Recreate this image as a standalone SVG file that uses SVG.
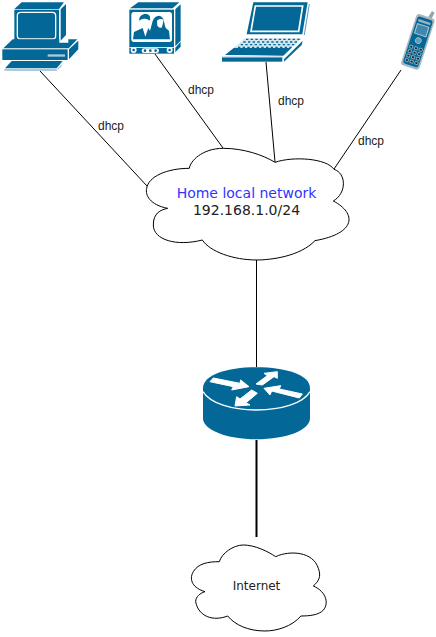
<svg xmlns="http://www.w3.org/2000/svg" width="436" height="637" viewBox="0 0 436 637">
<style>
.b{fill:#036897}.w{fill:#fff}.ws{fill:none;stroke:#fff}
.c{fill:#fff;stroke:#000;stroke-width:3}
.l{fill:none;stroke:#000;stroke-width:1}
.d{font:12px "Liberation Sans",Arial,sans-serif;fill:#222}
.t{font:14px "DejaVu Sans",Verdana,sans-serif;text-anchor:middle;fill:#222}
.a{fill:#fff;stroke:#fff;stroke-width:3}
</style>
<rect width="436" height="637" fill="#fff"/>
<g id="connectors">
<path class="l" d="M40 71L147 186"/>
<path class="l" d="M155 54L223 148"/>
<path class="l" d="M266 62L275 162"/>
<path class="l" d="M401 70L334 169"/>
<path class="l" d="M256.500 260V367"/>
<path class="l" d="M256.500 440V537" style="stroke-width:2"/>
</g>
<g id="label-dhcp-1"><text class="d" x="98" y="130">dhcp</text></g>
<g id="label-dhcp-2"><text class="d" x="188" y="94">dhcp</text></g>
<g id="label-dhcp-3"><text class="d" x="278" y="105">dhcp</text></g>
<g id="label-dhcp-4"><text class="d" x="358" y="145">dhcp</text></g>
<g id="pc" transform="scale(.3333)">
<path class="b" d="M43 27L65 7H192L177 27Z"/>
<rect class="b" x="43" y="29" width="134" height="97"/>
<rect class="ws" x="52" y="37" width="115" height="80" rx="10" stroke-width="4"/>
<path class="b" d="M182 28L198 12V105L182 122Z"/>
<path class="b" d="M10 145L38 118H178V128H205V118H232L206 145Z"/>
<rect class="b" x="7" y="148" width="196" height="32"/>
<rect x="143" y="163" width="52" height="7" fill="#a9cbdc"/>
<path class="b" d="M207 148L235 122V148L207 178Z"/>
<path class="b" d="M15 205L35 183H188L170 205Z"/>
<rect x="13" y="208" width="157" height="4" fill="#7fb2cc"/>
<path d="M173 206L187 191L183 200L172 210Z" fill="#7fb2cc"/>
</g>
<g id="tv" transform="scale(.3333)">
<path class="b" d="M390 25L415 7H538L518 25Z"/>
<rect class="b" x="388" y="29" width="134" height="132"/>
<rect class="w" x="394" y="36" width="122" height="90" rx="8"/>
<path class="b" d="M399 118L402 96L428 84L436 110L445 84L450 92C458 70 456 48 478 47C495 50 492 75 498 85L507 92L510 118Z"/>
<path class="b" d="M418 62C416 48 430 40 442 43C452 46 452 58 448 62C440 54 428 54 418 62Z"/>
<path class="w" d="M422 62C430 56 440 56 447 62C446 75 440 84 434 84C428 84 423 74 422 62Z"/>
<path class="w" d="M471 62C477 56 486 56 491 60L486 82C480 86 474 82 472 76Z"/>
<circle class="w" cx="401" cy="150" r="9"/><circle class="b" cx="401" cy="150" r="4"/>
<circle class="w" cx="509" cy="150" r="9"/><circle class="b" cx="509" cy="150" r="4"/>
<rect class="w" x="388" y="141" width="134" height="2.500"/>
<rect class="w" x="425" y="145" width="52" height="14" rx="7"/>
<circle class="b" cx="435" cy="152" r="4"/><circle class="b" cx="451" cy="152" r="4"/><circle class="b" cx="467" cy="152" r="4"/>
<path class="b" d="M526 28L542 13V122L526 139Z"/>
<path class="b" d="M526 143L542 125V140L526 157Z"/>
</g>
<g id="laptop" transform="translate(210,0) scale(.3333)">
<path class="b" d="M130 7H293L277 103H110Z"/>
<path class="ws" d="M136 18H278L266 94H123Z" stroke-width="5"/>
<path fill="none" stroke="#036897" stroke-width="2" d="M298 12L283 105"/>
<path class="b" d="M45 165L72 143H245L220 167Z"/>
<path fill="#d4e4ec" d="M72 143L105 115H276L245 143Z"/>
<path d="M108 118H272M100 126H264M92 134H256M84 142H248M74 150H238" fill="none" stroke="#036897" stroke-width="4" stroke-dasharray="7 7"/>
<rect class="b" x="36" y="172" width="181" height="13"/>
<rect x="36" y="170" width="181" height="2" fill="#7fb2cc"/>
<path class="b" d="M222 178L278 122L275 135L222 185Z"/>
</g>
<g id="phone" transform="translate(210,0) scale(.3333)">
<path d="M655 50L666 33L674 38L664 58Z" fill="#8fa8b8"/>
<g transform="rotate(18 625 125)">
<rect x="595" y="45" width="58" height="162" rx="10" fill="#a8b8c2"/>
<rect x="600" y="52" width="48" height="148" rx="8" class="b"/>
<rect x="605" y="60" width="38" height="7" fill="#9fb3bf"/>
<rect x="606" y="74" width="36" height="30" fill="#3f88ae" stroke="#b9c8d1" stroke-width="3"/>
<circle cx="624" cy="122" r="9" fill="#5f9dbd" stroke="#b9c8d1" stroke-width="2"/>
<g fill="#0f2a3a" stroke="#b9c8d1" stroke-width="2">
<rect x="605" y="142" width="9" height="8"/><rect x="620" y="142" width="9" height="8"/><rect x="635" y="142" width="9" height="8"/>
<rect x="605" y="156" width="9" height="8"/><rect x="620" y="156" width="9" height="8"/><rect x="635" y="156" width="9" height="8"/>
<rect x="605" y="170" width="9" height="8"/><rect x="620" y="170" width="9" height="8"/><rect x="635" y="170" width="9" height="8"/>
<rect x="605" y="184" width="9" height="8"/><rect x="620" y="184" width="9" height="8"/><rect x="635" y="184" width="9" height="8"/>
</g>
</g>
</g>
<g id="home-network">
<path class="c" transform="translate(130,130) scale(.3333)" d="M178 115C180 95 215 55 280 55C340 55 400 75 435 97C490 78 590 85 612 118C650 130 650 190 610 213C680 250 680 310 555 332C510 380 420 390 380 390C310 390 240 365 217 330C140 350 70 330 70 285C70 250 90 240 113 235C60 225 45 195 50 175C55 140 110 115 178 115Z"/>
<text class="t" x="246.500" y="198" style="fill:#3333ff">Home local network</text>
<text class="t" x="246.500" y="215">192.168.1.0/24</text>
</g>
<g id="router" transform="translate(190,355) scale(.3333)">
<path class="b" d="M39 100C39 60 110 37 199 37C290 37 360 60 360 100V190C360 225 290 253 199 253C110 253 39 225 39 190Z"/>
<path class="ws" d="M39 110C60 145 125 165 199 165C275 165 340 145 360 110" stroke-width="4"/>
<path class="a" d="M60 80L70 69L150 85L152 75L177 95L125 105L130 95Z"/>
<path class="a" d="M198 87L232 62L222 55L262 50L262 70L252 65L217 90Z"/>
<path class="a" d="M337 117L328 129L245 108L240 120L222 100L272 92L268 102Z"/>
<path class="a" d="M202 115L168 143L180 150L135 153L140 125L150 132L185 105Z"/>
</g>
<g id="internet">
<path class="c" transform="translate(180,530) scale(.3333)" d="M118 95C125 70 160 45 190 45C225 45 265 65 287 80C330 60 400 65 415 115C425 140 415 155 400 168C440 185 450 225 425 245C410 255 390 258 363 258C335 290 290 303 255 303C205 303 165 285 143 258C100 275 55 260 47 215C47 200 60 190 75 185C40 175 25 150 40 125C55 100 85 95 118 95Z"/>
<text x="256.500" y="590" style="font:12px 'DejaVu Sans',Verdana,sans-serif;text-anchor:middle;fill:#222">Internet</text>
</g>
</svg>
